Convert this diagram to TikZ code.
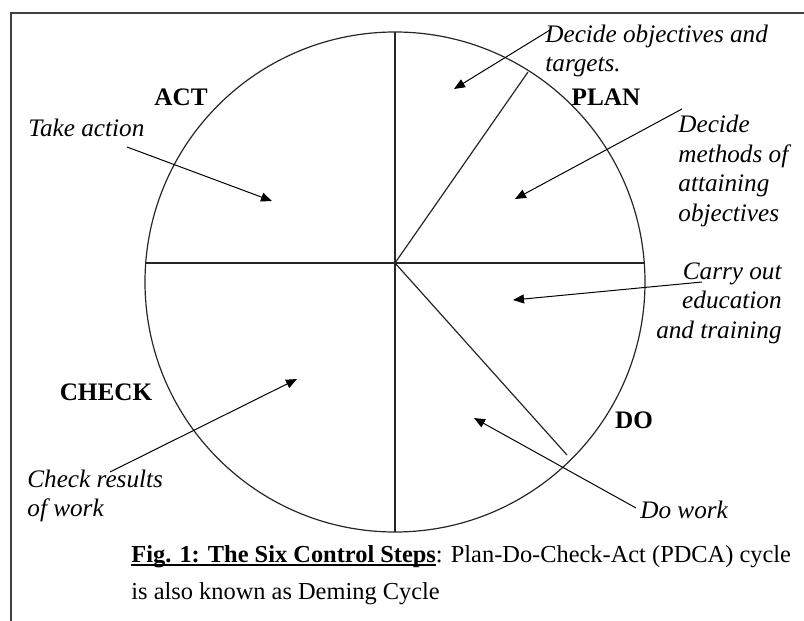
\documentclass[tikz,border=0pt]{standalone}
\usepackage{fontspec}
\setmainfont{Liberation Serif}
\usetikzlibrary{arrows.meta}
\newcommand{\figul}[1]{\setbox0\hbox{#1}\rlap{\rule[-1.6pt]{\wd0}{0.6pt}}\box0}

\begin{document}
\begin{tikzpicture}[
  x=0.5pt,y=-0.5pt,
  every node/.style={inner sep=0pt,font=\fontsize{12.6}{14.75}\selectfont},
  note/.style={font=\fontsize{12.6}{14.75}\selectfont\itshape},
  phase/.style={font=\fontsize{12.6}{14.75}\selectfont\bfseries},
  ring/.style={draw=black!85,line width=0.6pt},
  arr/.style={-{Triangle[length=5.5pt,width=4.5pt]},line width=0.5pt},
  frameline/.style={draw=black!75,line width=1pt}
]
\useasboundingbox (0,0) rectangle (804,621);
\draw[frameline] (11,621) -- (11,13) -- (804,13);

\coordinate (c) at (395,282);
\coordinate (hub) at (395,263);
\coordinate (top) at (395,32);
\coordinate (bot) at (395,532);
\coordinate (west) at (145.7,263);
\coordinate (east) at (644.3,263);
\coordinate (planend) at (528,72);
\coordinate (doend) at (567,455);
\draw[ring] (c) circle[radius=250];
\draw[ring] (top) -- (bot);
\draw[ring] (west) -- (east);
\draw[ring] (hub) -- (planend);
\draw[ring] (hub) -- (doend);

\node[phase] (act) at (181,97) {ACT};
\node[phase] (plan) at (606,97) {PLAN};
\node[phase] (check) at (106,392) {CHECK};
\node[phase] (do) at (634,420) {DO};

\node[note,align=left,anchor=west] (objtxt) at (545,51) {Decide objectives and\\targets.};
\node[note,align=left,anchor=west] (methtxt) at (678,171) {Decide\\methods of\\attaining\\objectives};
\node[note,align=right,anchor=east] (edutxt) at (782,303) {Carry out\\education\\and training};
\node[note,anchor=west] (acttxt) at (28,128) {Take action};
\node[note,align=left,anchor=west] (chktxt) at (27,496) {Check results\\of work};
\node[note,anchor=west] (worktxt) at (640,510) {Do work};

\coordinate (objstart) at (550,30);
\coordinate (objtip) at (454,89);
\coordinate (methstart) at (682,109);
\coordinate (methtip) at (515,199);
\coordinate (edustart) at (702,282);
\coordinate (edutip) at (513,300);
\coordinate (actstart) at (127,147);
\coordinate (acttip) at (272,201);
\coordinate (chkstart) at (110,472);
\coordinate (chktip) at (297,379);
\coordinate (workstart) at (636,508);
\coordinate (worktip) at (474,418);

\draw[arr] (objstart) -- (objtip);
\draw[arr] (methstart) -- (methtip);
\draw[arr] (edustart) -- (edutip);
\draw[arr] (actstart) -- (acttip);
\draw[arr] (chkstart) -- (chktip);
\draw[arr] (workstart) -- (worktip);

\node[align=left,anchor=north west,font=\fontsize{12.2}{18.5}\selectfont] (caption) at (131,545)
  {\figul{\textbf{Fig. 1: The Six Control Steps}}: Plan-Do-Check-Act (PDCA) cycle\\is also known as Deming Cycle};
\end{tikzpicture}
\end{document}
